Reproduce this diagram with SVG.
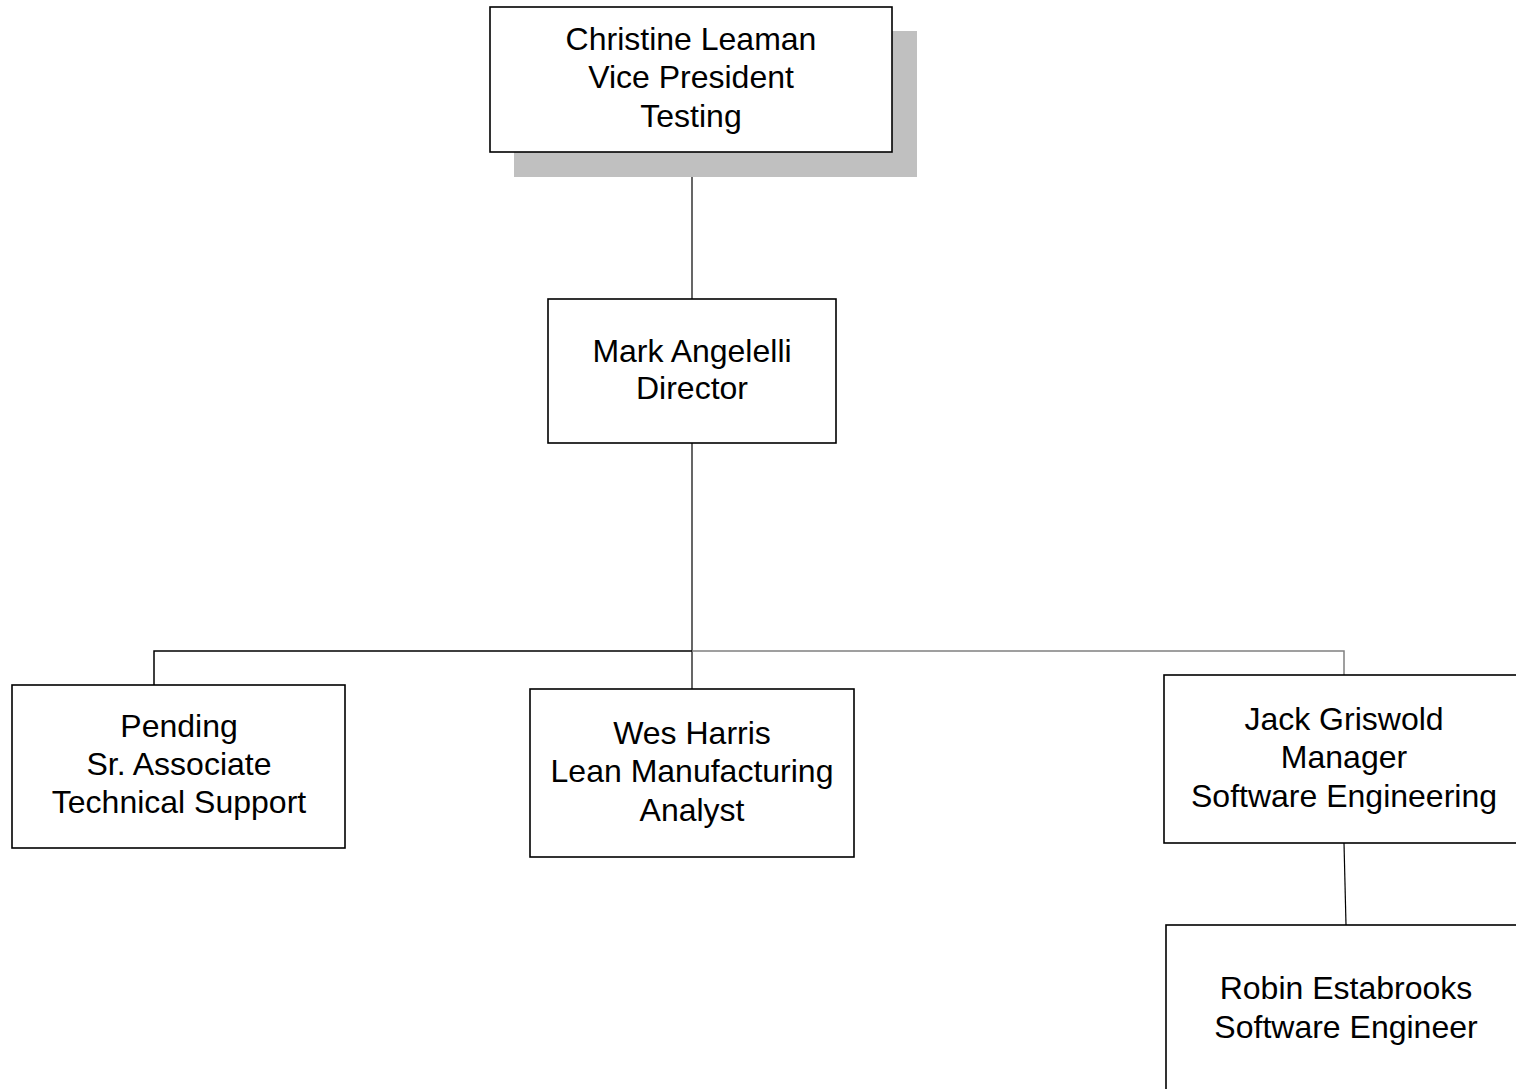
<svg xmlns="http://www.w3.org/2000/svg" width="1516" height="1089" viewBox="0 0 1516 1089">
<style>
.box{fill:#fff;stroke:#000;stroke-width:1.6}
.shadow{fill:#c0c0c0;stroke:none}
.t{font-family:"Liberation Sans",Arial,sans-serif;font-size:32px;fill:#000;text-anchor:middle}
.c{stroke:#000;stroke-width:1.2;fill:none}
.cg{stroke:#808080;stroke-width:1.5;fill:none}
</style>
<rect width="1516" height="1089" fill="#fff"/>
<g id="connectors">
<line class="c" x1="692" y1="152" x2="692" y2="299"/>
<line class="c" x1="692" y1="443" x2="692" y2="689"/>
<polyline class="c" points="154,687 154,651 692,651" style="stroke-width:1.5"/>
<polyline class="cg" points="692,651 1344,651 1344,675"/>
<line class="c" x1="1344" y1="843" x2="1346" y2="925"/>
</g>
<g id="n-christine">
<rect class="shadow" x="514" y="31" width="403" height="146"/>
<rect class="box" x="490" y="7" width="402" height="145"/>
<text class="t" x="691" y="50">Christine Leaman</text>
<text class="t" x="691" y="88">Vice President</text>
<text class="t" x="691" y="127">Testing</text>
</g>
<g id="n-mark">
<rect class="box" x="548" y="299" width="288" height="144"/>
<text class="t" x="692" y="362">Mark Angelelli</text>
<text class="t" x="692" y="399">Director</text>
</g>
<g id="n-pending">
<rect class="box" x="12" y="685" width="333" height="163"/>
<text class="t" x="179" y="737">Pending</text>
<text class="t" x="179" y="775">Sr. Associate</text>
<text class="t" x="179" y="813">Technical Support</text>
</g>
<g id="n-wes">
<rect class="box" x="530" y="689" width="324" height="168"/>
<text class="t" x="692" y="744">Wes Harris</text>
<text class="t" x="692" y="782">Lean Manufacturing</text>
<text class="t" x="692" y="821">Analyst</text>
</g>
<g id="n-jack">
<rect class="box" x="1164" y="675" width="360" height="168"/>
<text class="t" x="1344" y="730">Jack Griswold</text>
<text class="t" x="1344" y="768">Manager</text>
<text class="t" x="1344" y="807">Software Engineering</text>
</g>
<g id="n-robin">
<rect class="box" x="1166" y="925" width="360" height="180"/>
<text class="t" x="1346" y="999">Robin Estabrooks</text>
<text class="t" x="1346" y="1038">Software Engineer</text>
</g>
</svg>
